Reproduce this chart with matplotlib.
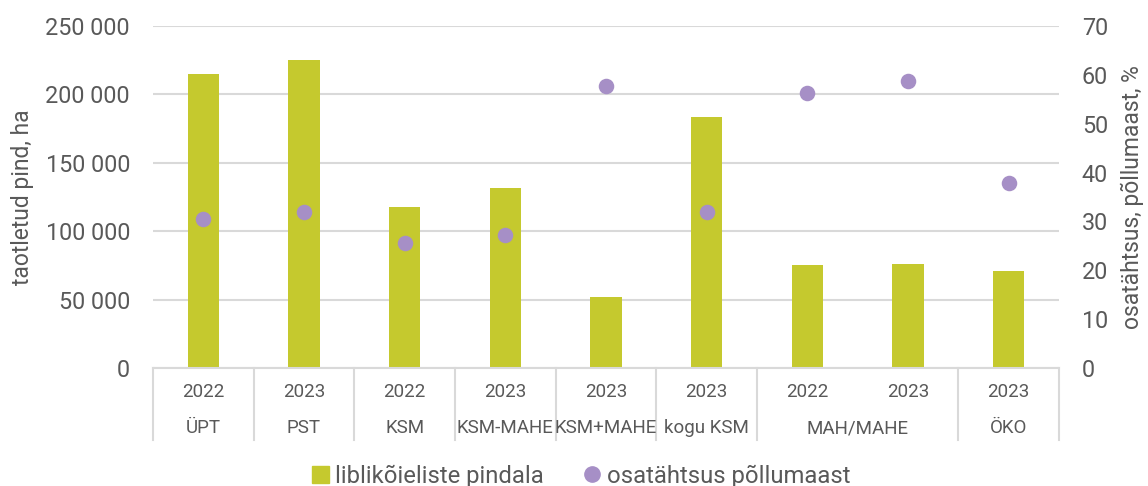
import numpy as np
import matplotlib.pyplot as plt
from matplotlib.transforms import blended_transform_factory
from matplotlib.lines import Line2D
from matplotlib.patches import Patch
from matplotlib.ticker import FuncFormatter

plt.rcParams['font.family'] = ['Roboto', 'DejaVu Sans']

# Data
years = ['2022', '2023', '2022', '2023', '2023', '2023', '2022', '2023', '2023']
groups = ['ÜPT', 'PST', 'KSM', 'KSM-MAHE', 'KSM+MAHE', 'kogu KSM', 'MAH/MAHE', 'ÖKO']
group_sizes = [1, 1, 1, 1, 1, 1, 2, 1]
area_ha = [215200, 225500, 117600, 131500, 52000, 183500, 75200, 76100, 70800]
share_pct = [30.4, 31.9, 25.6, 27.3, 57.7, 32.0, 56.3, 58.8, 37.9]

bar_col = '#c5c92e'
dot_col = '#a68fc6'
txt_col = '#595959'
grid_col = '#d9d9d9'

W, H = 1148, 486
fig = plt.figure(figsize=(W / 100, H / 100), dpi=100)
left, right, top, bottom = 153, 1059, 26, 368
ax = fig.add_axes([left / W, 1 - bottom / H, (right - left) / W, (bottom - top) / H])
ax2 = ax.twinx()

x = np.arange(len(area_ha))
ax.bar(x, area_ha, width=0.31, color=bar_col, zorder=2)
ax2.scatter(x, share_pct, s=125, color=dot_col, zorder=3, linewidths=0)

ax.set_xlim(-0.5, len(x) - 0.5)
ax.set_ylim(0, 250000)
ax.set_yticks(np.arange(0, 250001, 50000))
ax.yaxis.set_major_formatter(FuncFormatter(lambda v, p: f'{int(v):,}'.replace(',', ' ')))
ax2.set_ylim(0, 70)
ax2.set_yticks(np.arange(0, 71, 10))

ax.grid(axis='y', color=grid_col, lw=1.5, zorder=0)
ax.set_axisbelow(True)
for a in (ax, ax2):
    for s in a.spines.values():
        s.set_visible(False)
    a.tick_params(length=0, labelsize=16.8, colors=txt_col)
ax.tick_params(axis='y', pad=16.5)
ax2.tick_params(axis='y', pad=16.5)
ax.set_xticks([])

ax.set_ylabel('taotletud pind, ha', fontsize=16.5, color=txt_col, labelpad=8)
ax2.set_ylabel('osatähtsus, põllumaast, %', fontsize=16.5, color=txt_col, labelpad=9)

# multi-level category axis
tr = blended_transform_factory(ax.transData, ax.transAxes)
ph = bottom - top
ax.plot([-0.5, len(x) - 0.5], [0, 0], transform=tr, color=grid_col, lw=1.5, clip_on=False)
for i, yr in enumerate(years):
    ax.text(i, -(392 - bottom) / ph, yr, transform=tr, ha='center', va='center',
            fontsize=13.5, color=txt_col)
edges = np.concatenate([[0], np.cumsum(group_sizes)]) - 0.5
for g, a, b in zip(groups, edges[:-1], edges[1:]):
    ax.text((a + b) / 2, -(428 - bottom) / ph, g, transform=tr, ha='center', va='center',
            fontsize=13.5, color=txt_col)
for e in edges:
    ax.plot([e, e], [0, -(440 - bottom) / ph], transform=tr, color=grid_col, lw=1.5,
            clip_on=False)

handles = [Patch(color=bar_col),
           Line2D([], [], marker='o', ls='', color=dot_col, markersize=11)]
fig.legend(handles, ['liblikõieliste pindala', 'osatähtsus põllumaast'],
           loc='center', bbox_to_anchor=(581 / W, 1 - 476 / H), ncol=2, frameon=False,
           fontsize=17.2, labelcolor=txt_col, handlelength=0.7, handletextpad=0.25,
           columnspacing=1.7, handleheight=0.7)

fig.savefig('out.png', dpi=100)
